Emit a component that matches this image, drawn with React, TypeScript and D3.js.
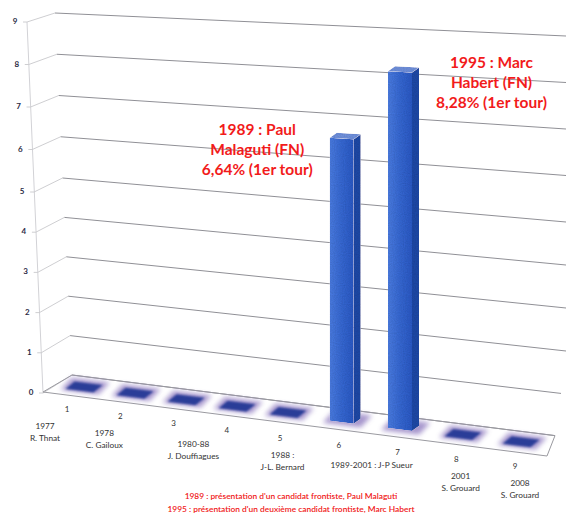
import React from "react";
import * as d3 from "d3";

// ---- data ----
const categories = [1, 2, 3, 4, 5, 6, 7, 8, 9];
const values = [0, 0, 0, 0, 0, 6.64, 8.28, 0, 0];
const yTicks = [0, 1, 2, 3, 4, 5, 6, 7, 8, 9];
const periodCats = [1, 2, 3.5, 5, 6.5, 8, 9];
const periodYears = ["1977", "1978", "1980-88", "1988 :", "1989-2001 : J-P Sueur", "2001", "2008"];
const periodNames = ["R. Thnat", "C. Gailoux", "J. Douffiagues", "J-L. Bernard", "", "S. Grouard", "S. Grouard"];
const annotCats = [6, 7];
const annotSides = [-1, 1];
const annotLines = [
  ["1989 : Paul", "Malaguti (FN)", "6,64% (1er tour)"],
  ["1995 : Marc", "Habert (FN)", "8,28% (1er tour)"],
];
const footnotes = [
  "1989 : présentation d'un candidat frontiste, Paul Malaguti",
  "1995 : présentation d'un deuxième candidat frontiste, Marc Habert",
];

const W = 566;
const H = 515;
const FONT = "Lato, 'Open Sans', sans-serif";

// ---- scales (3D perspective approximated) ----
const axisX = d3.scaleLinear().domain([0, 9]).range([43, 27]);
const axisY = d3.scaleLinear().domain([0, 5, 9]).range([393, 192, 22]);
const wallLX = d3.scaleLinear().domain([0, 9]).range([72, 55]);
const wallLY = d3.scaleLinear().domain([0, 5, 9]).range([375, 178, 13]);
const wallRY = d3.scaleLinear().domain([0, 5, 9]).range([437, 222, 36]);
const xBar = d3.scaleLinear().domain([1, 5, 9]).range([83, 287, 520]);
const floorY = d3.scaleLinear().domain([57.5, 551]).range([383.5, 445.5]);
const unit = d3.scaleLinear().domain([83, 520]).range([40.5, 44]);
const topSlope = d3.scaleLinear().domain([0, 9]).range([0.125, 0.045]);
const numX = d3.scaleLinear().domain([1, 5, 9]).range([67, 280, 515]);
const numY = d3.scaleLinear().domain([1, 9]).range([410, 467]);
const perX = d3.scaleLinear().domain([1, 9]).range([45, 520]);

function wallY(v: number, x: number) {
  const xl = wallLX(v);
  return wallLY(v) + ((wallRY(v) - wallLY(v)) * (x - xl)) / (W - xl);
}

const pts = (a: number[][]) => a.map((p) => p.join(",")).join(" ");

export default function App() {
  const bw = 24;
  const dx = 7;
  const dy = -5;
  const s0 = 0.125;

  const floor = [
    [axisX(0), axisY(0) - 1],
    [wallLX(0), wallLY(0)],
    [555, wallY(0, 555)],
    [547, 456],
  ];

  const bars = categories.map((c, i) => {
    const v = values[i];
    const cx = xBar(c);
    const cy = floorY(cx);
    const x0 = cx - (bw + dx) / 2;
    const yb0 = cy - (bw * s0) / 2 - dy / 2;
    const h = v * unit(cx);
    const yt0 = yb0 - h;
    const st = topSlope(v);
    const FLb = [x0, yb0];
    const FRb = [x0 + bw, yb0 + bw * s0];
    const FLt = [x0, yt0];
    const FRt = [x0 + bw, yt0 + bw * st];
    const add = (p: number[]) => [p[0] + dx, p[1] + dy];
    // flat tile footprint (slightly enlarged for zero bars)
    const e = 2;
    const tFL = [FLb[0] - e, FLb[1] - e * s0 + 1.5];
    const tFR = [FRb[0] + e, FRb[1] + e * s0 + 1.5];
    const tBR = [tFR[0] + dx * 1.3, tFR[1] + dy * 1.3 - 1];
    const tBL = [tFL[0] + dx * 1.3, tFL[1] + dy * 1.3 - 1];
    // glow footprint (expanded)
    const g = 7;
    const gFL = [FLb[0] - g, FLb[1] - g * s0 + 3];
    const gFR = [FRb[0] + g, FRb[1] + g * s0 + 3];
    const gBR = [gFR[0] + dx * 1.6, gFR[1] + dy * 1.6 - 4];
    const gBL = [gFL[0] + dx * 1.6, gFL[1] + dy * 1.6 - 4];
    return {
      c, v, cx,
      front: [FLb, FRb, FRt, FLt],
      side: [FRb, add(FRb), add(FRt), FRt],
      top: [FLt, FRt, add(FRt), add(FLt)],
      tile: [tFL, tFR, tBR, tBL],
      glow: [gFL, gFR, gBR, gBL],
    };
  });

  return (
    <svg
      width={W}
      height={H}
      viewBox={`0 0 ${W} ${H}`}
      style={{ position: "absolute", left: 0, top: 0, background: "#fff" }}
      fontFamily={FONT}
    >
      <defs>
        <filter id="glow" x="-50%" y="-150%" width="200%" height="400%">
          <feGaussianBlur stdDeviation="2.6" />
        </filter>
        <filter id="soft" x="-20%" y="-50%" width="140%" height="200%">
          <feGaussianBlur stdDeviation="0.8" />
        </filter>
        <filter id="grain" x="0" y="0" width="100%" height="100%">
          <feTurbulence type="fractalNoise" baseFrequency="0.9" numOctaves="1" seed="3" result="n" />
          <feColorMatrix in="n" type="saturate" values="0" result="g" />
          <feComponentTransfer in="g" result="gl">
            <feFuncR type="linear" slope="0.45" intercept="0.68" />
            <feFuncG type="linear" slope="0.45" intercept="0.68" />
            <feFuncB type="linear" slope="0.45" intercept="0.68" />
            <feFuncA type="linear" slope="0" intercept="1" />
          </feComponentTransfer>
          <feBlend in="SourceGraphic" in2="gl" mode="multiply" result="b" />
          <feComposite in="b" in2="SourceGraphic" operator="in" />
        </filter>
        <linearGradient id="frontGrad" x1="0" x2="1" y1="0" y2="0">
          <stop offset="0" stopColor="#4a7be0" />
          <stop offset="0.5" stopColor="#3567d2" />
          <stop offset="1" stopColor="#2a58c4" />
        </linearGradient>
      </defs>

      {/* side wall: axis line + diagonals */}
      <line
        x1={axisX(0)} y1={axisY(0)} x2={axisX(9)} y2={axisY(9)}
        stroke="#d2d2d6" strokeWidth={1}
      />
      {yTicks.map((v) => (
        <g key={"sw" + v}>
          <line
            x1={axisX(v)} y1={axisY(v)} x2={wallLX(v)} y2={wallLY(v)}
            stroke="#c8c8cc" strokeWidth={0.9}
          />
          <line
            x1={axisX(v) - 4} y1={axisY(v)} x2={axisX(v)} y2={axisY(v)}
            stroke="#c8c8cc" strokeWidth={0.9}
          />
        </g>
      ))}

      {/* back wall gridlines */}
      {yTicks.map((v) => {
        const xe = Math.min(W, 555 + 6 * v);
        return (
          <line
            key={"gl" + v}
            x1={wallLX(v)} y1={wallLY(v)} x2={xe} y2={wallY(v, xe)}
            stroke="#909096" strokeWidth={1}
          />
        );
      })}

      {/* floor */}
      <polygon points={pts(floor)} fill="none" stroke="#9a9aa0" strokeWidth={1} />

      {/* y axis labels */}
      {yTicks.map((v) => (
        <text
          key={"yl" + v}
          x={axisX(v) - 12}
          y={axisY(v)}
          textAnchor="middle"
          dominantBaseline="middle"
          fontSize={8}
          fontWeight="bold"
          fill="#2b2b45"
        >
          {v}
        </text>
      ))}

      {/* bars */}
      {bars.map((b) => (
        <g key={"b" + b.c}>
          <polygon points={pts(b.glow)} fill="#9784c4" opacity={0.85} filter="url(#glow)" />
          {b.v > 0 ? (
            <g filter="url(#grain)">
              <polygon points={pts(b.side)} fill="#1f48a6" />
              <polygon points={pts(b.front)} fill="url(#frontGrad)" />
              <polygon points={pts(b.top)} fill="#6f90dc" />
            </g>
          ) : (
            <polygon points={pts(b.tile)} fill="#2c3e98" filter="url(#soft)" />
          )}
        </g>
      ))}

      {/* category numbers */}
      {categories.map((c) => (
        <text
          key={"n" + c}
          x={numX(c)}
          y={numY(c)}
          textAnchor="middle"
          dominantBaseline="middle"
          fontSize={8}
          fill="#333"
        >
          {c}
        </text>
      ))}

      {/* period labels */}
      {periodCats.map((p, i) => {
        const y1 = numY(p) + 17;
        return (
          <g key={"p" + i} fontSize={8.3} fill="#333" textAnchor="middle">
            <text x={perX(p)} y={y1} dominantBaseline="middle">
              {periodYears[i]}
            </text>
            {periodNames[i] && (
              <text x={perX(p)} y={y1 + 12} dominantBaseline="middle">
                {periodNames[i]}
              </text>
            )}
          </g>
        );
      })}

      {/* annotations */}
      {annotCats.map((c, i) => {
        const b = bars[categories.indexOf(c)];
        const topY = b.front[3][1];
        const ax = b.cx + annotSides[i] * 88;
        return (
          <g key={"a" + c} fill="#f21b1b" fontSize={15.5} fontWeight="bold" textAnchor="middle">
            {annotLines[i].map((t, j) => (
              <text key={j} x={ax} y={topY - 7 + j * 20} dominantBaseline="middle">
                {t}
              </text>
            ))}
          </g>
        );
      })}

      {/* footnotes */}
      {footnotes.map((t, i) => (
        <text
          key={"f" + i}
          x={291}
          y={497 + i * 13}
          textAnchor="middle"
          dominantBaseline="middle"
          fontSize={8.4}
          fontWeight={600}
          fill="#f01818"
        >
          {t}
        </text>
      ))}
    </svg>
  );
}
